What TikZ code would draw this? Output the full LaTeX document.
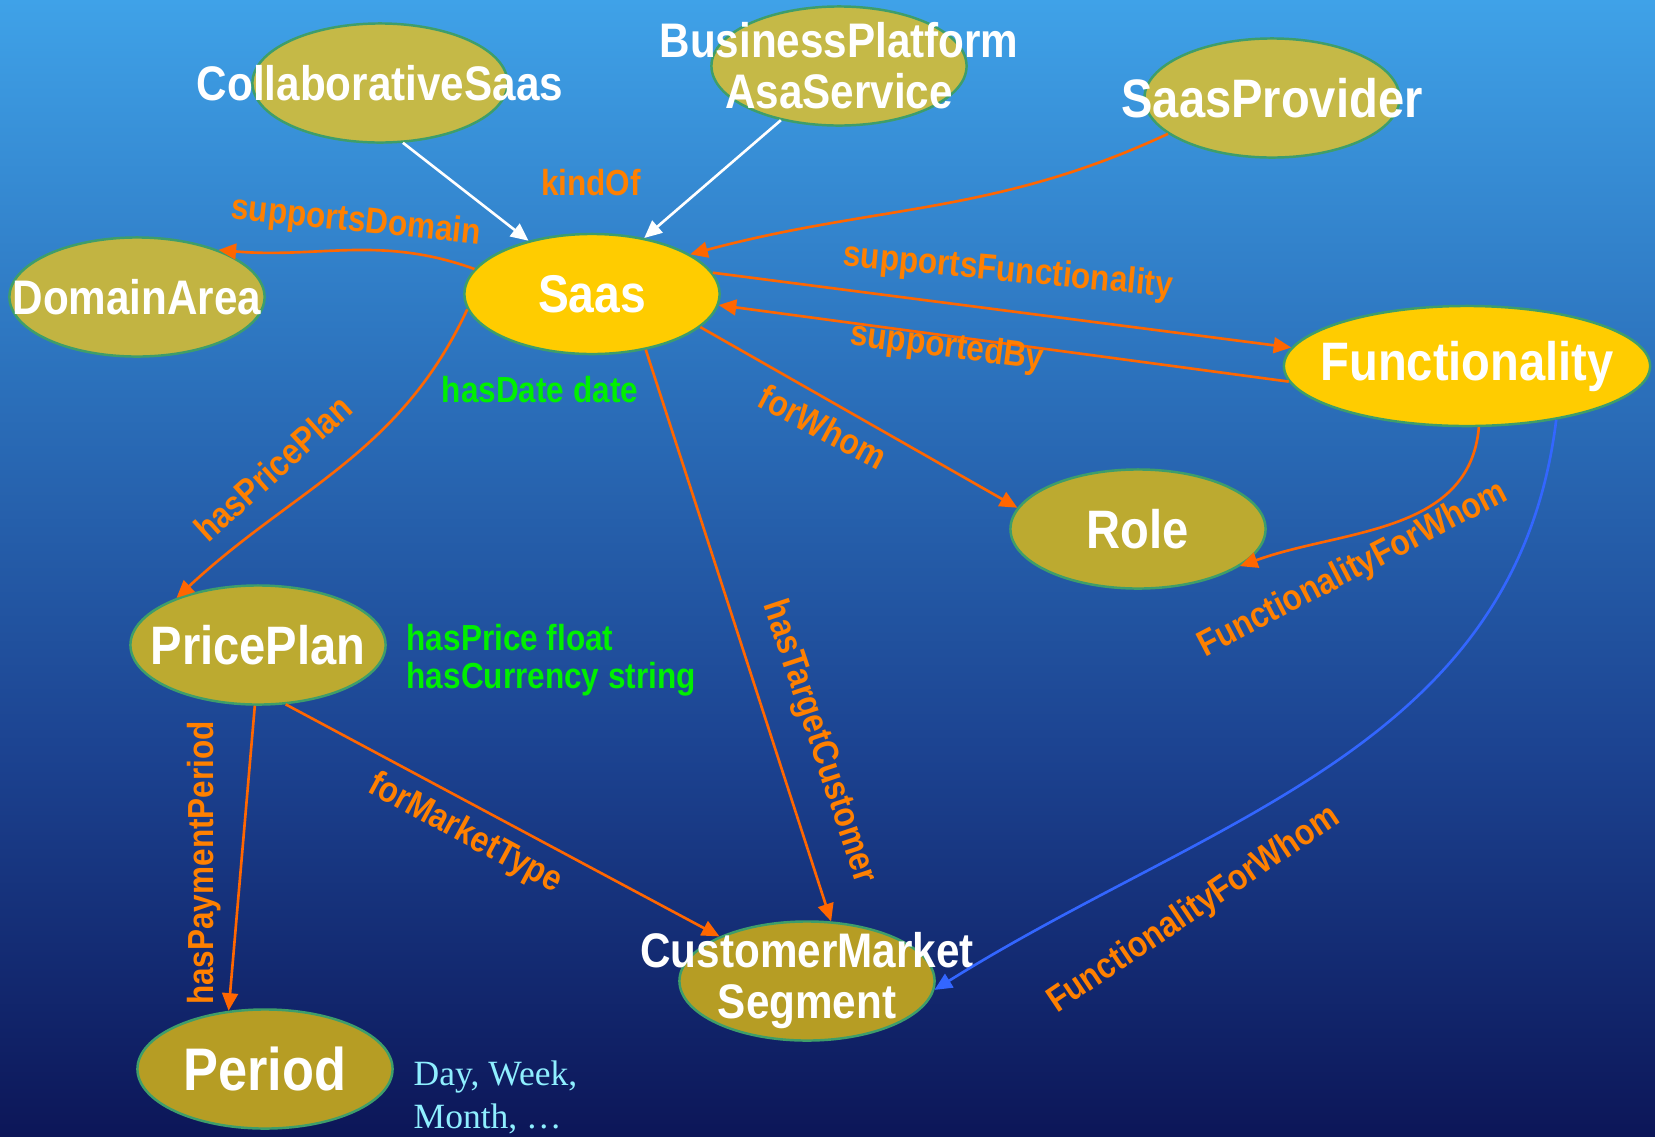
\documentclass[tikz,border=0pt]{standalone}
\usepackage{fontspec}
\setmainfont{Liberation Sans}[FakeStretch=0.87]
\newfontfamily\notefont{Liberation Serif}
\usetikzlibrary{shapes.geometric,arrows.meta}

\definecolor{skyA}{HTML}{3FA2E8}
\definecolor{skyB}{HTML}{2A6DB8}
\definecolor{skyC}{HTML}{1C4391}
\definecolor{skyD}{HTML}{0C1658}
\definecolor{rim}{HTML}{3E9E6A}
\definecolor{gold}{HTML}{FFCC00}
\definecolor{oliveA}{HTML}{C5B947}
\definecolor{oliveB}{HTML}{C2B442}
\definecolor{oliveC}{HTML}{BCAA30}
\definecolor{oliveD}{HTML}{B69D24}
\definecolor{relline}{HTML}{FF6600}
\definecolor{reltext}{HTML}{FF8000}
\definecolor{attrgreen}{HTML}{00F000}
\definecolor{bluelink}{HTML}{3366FF}
\definecolor{notecyan}{HTML}{8FEFFF}

\pgfdeclareverticalshading{skyfade}{100bp}{color(0bp)=(skyD); color(25bp)=(skyD); color(42bp)=(skyC); color(57bp)=(skyB); color(75bp)=(skyA); color(100bp)=(skyA)}

\tikzset{
  nodetext/.style={text=white,font=\bfseries\fontsize{13.8}{14.5}\selectfont,align=center,inner sep=0pt},
  bigtext/.style={nodetext,font=\bfseries\fontsize{15.4}{16}\selectfont},
  concept/.style={ellipse,draw=rim,line width=0.7pt,fill=#1,inner sep=0pt,
    minimum width=2.55cm,minimum height=1.19cm},
  core/.style={concept=gold,minimum height=1.2cm},
  rel/.style={draw=relline,line width=0.75pt,-{Triangle[length=5pt,width=4.5pt]}},
  isa/.style={rel,draw=white},
  lbl/.style={text=reltext,font=\bfseries\fontsize{10.3}{11}\selectfont,inner sep=0pt},
  attr/.style={text=attrgreen,font=\bfseries\fontsize{10.3}{10.8}\selectfont,inner sep=0pt,align=left}
}

\begin{document}
\begin{tikzpicture}[x=0.01cm,y=0.01cm]
  \shade[shading=skyfade] (0,0) rectangle (1655,-1136);
  \useasboundingbox (0,0) rectangle (1655,-1136);

  % concepts
  \node[concept=oliveA,label={[nodetext]center:CollaborativeSaas}] (collab) at (380,-83) {};
  \node[concept=oliveA,label={[nodetext]center:BusinessPlatform\\AsaService}] (bpaas) at (839,-66) {};
  \node[concept=oliveA,label={[bigtext]center:SaasProvider}] (provider) at (1272,-98) {};
  \node[concept=oliveB,label={[nodetext]center:DomainArea}] (domain) at (137,-297) {};
  \node[core,label={[nodetext,font=\bfseries\fontsize{15.1}{16}\selectfont]center:Saas}] (saas) at (592,-294) {};
  \node[core,minimum width=3.66cm,label={[bigtext]center:Functionality}] (func) at (1467,-366) {};
  \node[concept=oliveC,label={[bigtext]center:Role}] (role) at (1138,-529) {};
  \node[concept=oliveC,label={[bigtext]center:PricePlan}] (priceplan) at (258,-645) {};
  \node[concept=oliveD,label={[nodetext]center:CustomerMarket\\Segment}] (segment) at (807,-981) {};
  \node[concept=oliveD,label={[nodetext,font=\bfseries\fontsize{17.1}{18}\selectfont]center:Period}] (period) at (265,-1069) {};

  % links
  \draw[isa] (collab.-69) -- (saas.140);
  \draw[isa] (bpaas.-137) -- (saas.47);
  \draw[rel] (provider.-161) to[out=205,in=15] (saas.22);
  \draw[rel] (saas.168) to[out=160,in=-5] (domain.30);
  \draw[rel] (saas.10) -- (func.174);
  \draw[rel] (func.-175) -- (saas.-5);
  \draw[rel] (saas.-17) -- (role.170);
  \draw[rel] (saas.-173) to[out=-115,in=43] (priceplan.150);
  \draw[rel] (saas.-46) -- (segment.68);
  \draw[rel] (priceplan.-65) -- (segment.153);
  \draw[rel] (priceplan.-93) -- (period.122);
  \draw[rel] (func.-79) to[out=-95,in=20] (role.-20);
  \draw[rel,draw=bluelink] (func.-31) to[out=-97,in=32] (segment.-4);

  % link labels
  \node[lbl] (kindof) at (591,-183) {kindOf};
  \node[lbl,rotate=-6] (supdomain) at (356,-222) {supportsDomain};
  \node[lbl,rotate=-5.4] (supfunc) at (1008,-272) {supportsFunctionality};
  \node[lbl,rotate=-7.4] (supby) at (947,-348) {supportedBy};
  \node[lbl,rotate=-28] (forwhom) at (823,-427) {forWhom};
  \node[lbl,rotate=42] (haspp) at (273,-468) {hasPricePlan};
  \node[lbl,rotate=-71.6] (hastarget) at (819,-742) {hasTargetCustomer};
  \node[lbl,rotate=27.4] (ffwrole) at (1353,-570) {FunctionalityForWhom};
  \node[lbl,rotate=34] (ffwseg) at (1194,-910) {FunctionalityForWhom};
  \node[lbl,rotate=-28.4] (formarket) at (465,-834) {forMarketType};
  \node[lbl,rotate=90] (haspay) at (204,-863) {hasPaymentPeriod};

  % attributes
  \node[attr] (hasdate) at (540,-390) {hasDate date};
  \node[attr,anchor=west] (ppattr) at (406,-660) {hasPrice float\\hasCurrency string};
  \node[anchor=west,align=left,inner sep=0pt,text=notecyan,font=\notefont\fontsize{10.1}{12.2}\selectfont] (periodvals) at (413,-1097) {Day, Week,\\Month, \ldots};
\end{tikzpicture}
\end{document}
